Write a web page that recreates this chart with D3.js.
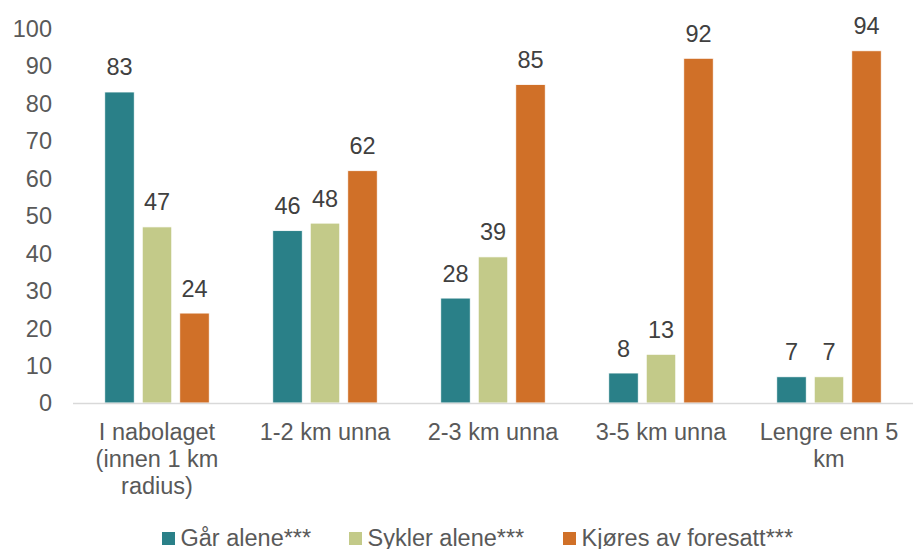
<!DOCTYPE html>
<html><head><meta charset="utf-8">
<script src="https://cdn.jsdelivr.net/npm/d3@7"></script>
<style>body{margin:0;background:#fff}svg{font-family:"Liberation Sans",Arial,sans-serif}</style>
</head><body><svg id="c" width="914" height="549"></svg>
<script>
const categories = [["I nabolaget","(innen 1 km","radius)"],["1-2 km unna"],["2-3 km unna"],["3-5 km unna"],["Lengre enn 5","km"]];
const seriesNames = ["Går alene***","Sykler alene***","Kjøres av foresatt***"];
const gar = [83,46,28,8,7];
const sykler = [47,48,39,13,7];
const kjores = [24,62,85,92,94];
const yTicks = [0,10,20,30,40,50,60,70,80,90,100];
const colors = ["#2a8088","#c3ca89","#d07028"];

const svg = d3.select("#c");
const x0 = d3.scaleBand().domain(d3.range(categories.length)).range([73,913]);
const x1 = d3.scaleBand().domain([0,1,2]).range([0,3*37.5]);
const y = d3.scaleLinear().domain([0,100]).range([403,28.3]);
const series = [gar,sykler,kjores];

// y tick labels
svg.append("g").selectAll("text").data(yTicks).join("text")
  .attr("x",52).attr("y",d=>y(d)).attr("dy","0.36em").attr("text-anchor","end")
  .attr("font-size",23.5).attr("fill","#595959").text(d=>d);

const groups = svg.append("g").selectAll("g").data(categories).join("g")
  .attr("transform",(d,i)=>`translate(${x0(i)+x0.bandwidth()/2-3*37.5/2+4},0)`);

groups.each(function(cat,i){
  const g = d3.select(this);
  series.forEach((s,k)=>{
    g.append("rect").attr("x",x1(k)).attr("width",29.5)
      .attr("y",y(s[i])).attr("height",y(0)-y(s[i]))
      .attr("fill",colors[k]).attr("stroke","#fff").attr("stroke-width",0.8);
    g.append("text").attr("x",x1(k)+14.75).attr("y",y(s[i])-16.5)
      .attr("text-anchor","middle").attr("font-size",23.5).attr("fill","#404040").text(s[i]);
  });
});

// axis line
svg.append("line").attr("x1",73).attr("x2",913).attr("y1",403.5).attr("y2",403.5)
  .attr("stroke","#d9d9d9").attr("stroke-width",1.5);

// category labels
categories.forEach((lines,i)=>{
  const t = svg.append("text").attr("text-anchor","middle").attr("font-size",23.5).attr("fill","#595959");
  lines.forEach((l,j)=>{
    t.append("tspan").attr("x",x0(i)+x0.bandwidth()/2).attr("y",439.5+j*27.3).text(l);
  });
});

// legend
const legX = [162,349,563];
seriesNames.forEach((n,k)=>{
  svg.append("rect").attr("x",legX[k]).attr("y",532).attr("width",13).attr("height",13).attr("fill",colors[k]);
  svg.append("text").attr("x",legX[k]+18.5).attr("y",545.5).attr("font-size",23.5).attr("fill","#595959").text(n);
});
</script></body></html>
